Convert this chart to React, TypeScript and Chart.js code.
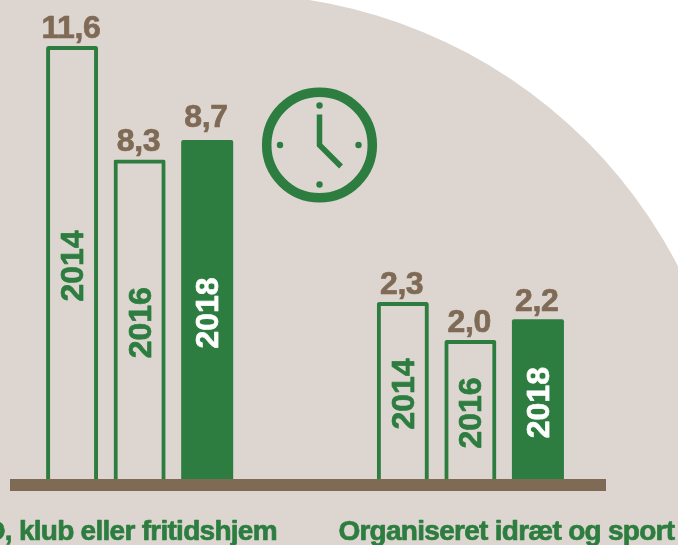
import React, { useEffect, useRef } from "react";
import { Chart, registerables, LinearScale } from "chart.js";

const categories = ["SFO, klub eller fritidshjem", "Organiseret idræt og sport"];
const years = ["2014", "2016", "2018"];
const values2014 = [11.6, 2.3];
const values2016 = [8.3, 2.0];
const values2018 = [8.7, 2.2];

// The source picture does not draw its bars to one linear scale, so the value
// axis is a picture-read mapping from value to bar length.
const axisValues = [0, 2.0, 2.2, 2.3, 8.3, 8.7, 11.6, 12.51];
const axisLengths = [0, 139, 159.7, 177, 319.5, 339, 433, 479];

const GREEN = "#2c7d3f";
const BROWN = "#7f6a56";
const BEIGE = "#ddd5cf";
const FONT = '"Liberation Sans", Arial, sans-serif';
const OFFSET_X = 100;
const categoryLabelShift = [-26.5, 36];

class PictureScale extends LinearScale {
  static id = "pictureScale";
  static defaults = { ...(LinearScale as any).defaults };
  getPixelForValue(v: number) {
    let len = axisLengths[axisLengths.length - 1];
    for (let i = 1; i < axisValues.length; i++) {
      if (v <= axisValues[i]) {
        const t = (v - axisValues[i - 1]) / (axisValues[i] - axisValues[i - 1]);
        len = axisLengths[i - 1] + t * (axisLengths[i] - axisLengths[i - 1]);
        break;
      }
    }
    return (this as any).getPixelForDecimal(len / axisLengths[axisLengths.length - 1]);
  }
}

Chart.register(...registerables, PictureScale as any);

function text(ctx: CanvasRenderingContext2D, s: string, x: number, y: number, font: string, color: string, spacing: string) {
  ctx.save();
  (ctx as any).letterSpacing = spacing;
  ctx.font = font;
  ctx.fillStyle = color;
  ctx.strokeStyle = color;
  ctx.lineWidth = 0.7;
  ctx.lineJoin = "round";
  ctx.textAlign = "center";
  ctx.textBaseline = "alphabetic";
  ctx.fillText(s, x, y);
  ctx.strokeText(s, x, y);
  ctx.restore();
}

const decor = {
  id: "decor",
  beforeDraw(chart: any) {
    const ctx = chart.ctx as CanvasRenderingContext2D;
    ctx.save();
    ctx.translate(OFFSET_X, 0);
    ctx.fillStyle = BEIGE;
    ctx.beginPath();
    ctx.arc(230.5, 497.6, 503.8, 0, Math.PI * 2);
    ctx.fill();
    ctx.fillRect(-OFFSET_X, 0, 400, 600);

    // clock
    ctx.strokeStyle = GREEN;
    ctx.fillStyle = GREEN;
    ctx.lineWidth = 9.5;
    ctx.beginPath();
    ctx.arc(319.5, 145, 52.8, 0, Math.PI * 2);
    ctx.stroke();
    for (const [x, y] of [[319.5, 105.5], [319.5, 184.5], [280, 145], [358.5, 145]]) {
      ctx.beginPath();
      ctx.arc(x, y, 3.2, 0, Math.PI * 2);
      ctx.fill();
    }
    ctx.lineWidth = 5.5;
    ctx.lineJoin = "miter";
    ctx.beginPath();
    ctx.moveTo(319.5, 114.5);
    ctx.lineTo(319.5, 145);
    ctx.lineTo(341, 166.5);
    ctx.stroke();
    ctx.restore();
  },
  afterDatasetsDraw(chart: any) {
    const ctx = chart.ctx as CanvasRenderingContext2D;
    ctx.save();
    ctx.fillStyle = BROWN;
    ctx.fillRect(OFFSET_X + 10, 479, 596, 12);
    ctx.restore();
    chart.data.datasets.forEach((ds: any, d: number) => {
      chart.getDatasetMeta(d).data.forEach((bar: any, i: number) => {
        const labelValue = (ds.data[i] as number).toFixed(1).replace(".", ",");
        const lift = d === 2 && i === 0 ? 13.5 : 8.5;
        text(ctx, labelValue, bar.x - 1.2, bar.y - lift, `bold 32px ${FONT}`, BROWN, "-0.4px");
        ctx.save();
        ctx.translate(bar.x + 11, (bar.y + bar.base) / 2 + 3.5);
        ctx.rotate(-Math.PI / 2);
        text(ctx, ds.label, 0, 0, `bold 32px ${FONT}`, d === 2 ? "#ffffff" : GREEN, "0px");
        ctx.restore();
      });
    });
    const xs = chart.scales.x;
    categories.forEach((c, i) => {
      text(ctx, c, xs.getPixelForTick(i) + categoryLabelShift[i], 539.5, `bold 28px ${FONT}`, GREEN, "-0.72px");
    });
  },
};

export default function App() {
  const ref = useRef<HTMLCanvasElement>(null);
  useEffect(() => {
    const chart = new Chart(ref.current as HTMLCanvasElement, {
      type: "bar",
      data: {
        labels: categories,
        datasets: [values2014, values2016, values2018].map((data, i) => ({
          label: years[i],
          data,
          backgroundColor: i === 2 ? GREEN : "rgba(0,0,0,0)",
          borderColor: GREEN,
          borderWidth: i === 2 ? 0 : 4,
          borderRadius: 2,
          borderSkipped: "bottom",
          categoryPercentage: 0.6127,
          barPercentage: 0.77,
        })),
      },
      options: {
        animation: false,
        responsive: false,
        devicePixelRatio: 1,
        layout: { padding: { left: OFFSET_X - 25.75, right: 64.25, top: 0, bottom: 66 } },
        plugins: { legend: { display: false }, tooltip: { enabled: false } },
        scales: {
          x: {
            grid: { display: false, drawTicks: false },
            border: { display: false },
            ticks: { display: false },
          },
          y: { type: "pictureScale", display: false, min: 0, max: 12.51 } as any,
        },
      },
      plugins: [decor],
    } as any);
    return () => chart.destroy();
  }, []);
  return (
    <div style={{ position: "fixed", left: 0, top: 0, width: 678, height: 545, overflow: "hidden", background: "#fff" }}>
      <canvas ref={ref} width={800} height={545} style={{ position: "absolute", left: -OFFSET_X, top: 0 }} />
    </div>
  );
}
